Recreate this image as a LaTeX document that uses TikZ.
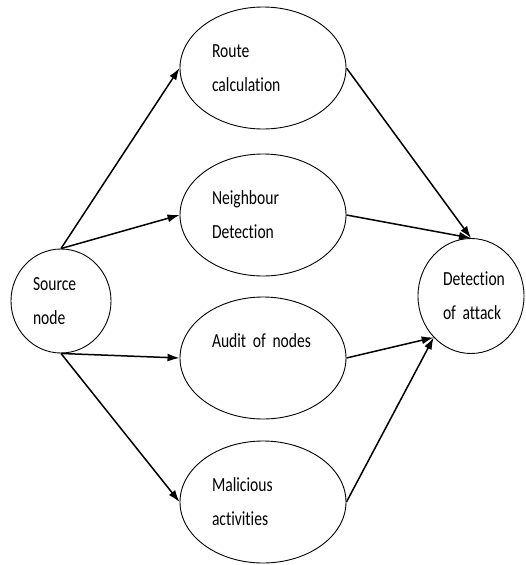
\documentclass[tikz,border=0pt]{standalone}
\usepackage{fontspec}
\newfontfamily\diagfont[FakeStretch=0.78, Ligatures=NoCommon]{Carlito}
\usetikzlibrary{arrows.meta,shapes.geometric}
\hyphenpenalty=10000

\begin{document}
% narrower word space for the condensed labels
{\diagfont\fontsize{20}{34}\selectfont \fontdimen2\font=3.5pt \fontdimen3\font=0pt \fontdimen4\font=0pt}
\begin{tikzpicture}[
    x=1pt, y=-1pt,
    every node/.style={font=\diagfont\fontsize{20}{34}\selectfont, align=left, inner sep=0pt},
    stage/.style={ellipse, draw, line width=0.9pt, minimum width=166pt, minimum height=122pt, text width=102pt},
    endpoint/.style={ellipse, draw, line width=0.9pt, text width=56pt},
    link/.style={-{Latex[length=12pt,width=8pt]}, line width=1.5pt},
]
\useasboundingbox (0,0) rectangle (525,565);

\node[endpoint, minimum width=100pt, minimum height=104pt] (source) at (61,301) {Source\\node};
\node[stage] (route) at (263,68) {Route\\calculation};
\node[stage] (neighbour) at (263,215) {Neighbour\\Detection};
\node[stage] (audit) at (263,358) {Audit of nodes\\\mbox{}};
\node[stage] (malicious) at (263,502) {Malicious\\activities};
\node[endpoint, minimum width=106pt, minimum height=115pt] (attack) at (471,296) {Detection\\of~attack};

\draw[link] (source.north) -- (route.west);
\draw[link] (source.north) -- (neighbour.west);
\draw[link] (source.south) -- (audit.west);
\draw[link] (source.south) -- (malicious.west);
\draw[link] (route.east) -- (attack.north);
\draw[link] (neighbour.east) -- (attack.north);
\draw[link] (audit.east) -- (attack.228);
\draw[link] (malicious.east) -- (attack.228);
\end{tikzpicture}
\end{document}
